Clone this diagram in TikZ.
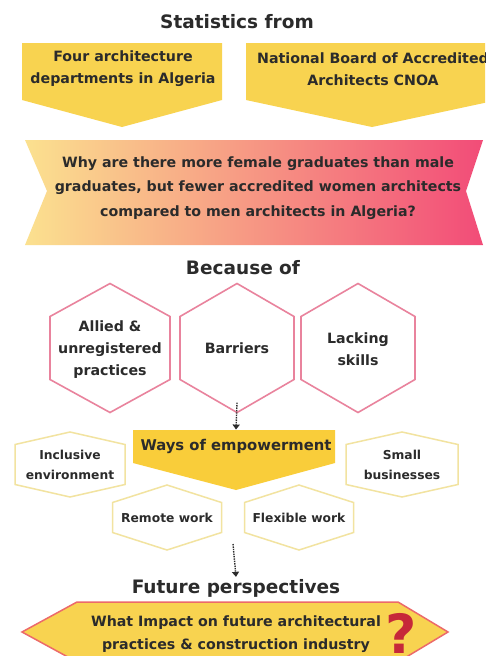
\documentclass[tikz,border=0pt]{standalone}
\usepackage{fontspec}
\setmainfont{DejaVu Sans}
\usetikzlibrary{arrows.meta}
\definecolor{ink}{HTML}{2B2B2B}
\definecolor{ylw}{HTML}{F8D350}
\definecolor{ylwdeep}{HTML}{F9CD3A}
\definecolor{pinkline}{HTML}{E9839D}
\definecolor{paleline}{HTML}{F2E3A0}
\definecolor{bannerL}{HTML}{FBE18F}
\definecolor{bannerM}{HTML}{F7A99A}
\definecolor{bannerR}{HTML}{F24C78}
\definecolor{redline}{HTML}{EC6A6A}
\definecolor{qred}{HTML}{C62839}
\newcommand{\hexpath}[6]{\draw[#1] (#2,#3-#5) -- (#2+#4,#3-#6) -- (#2+#4,#3+#6) -- (#2,#3+#5) -- (#2-#4,#3+#6) -- (#2-#4,#3-#6) -- cycle;}
\tikzset{
  txt/.style={font=\bfseries\fontsize{14.2}{22}\selectfont, text=ink, align=center, inner sep=0pt},
  smalltxt/.style={font=\bfseries\fontsize{12.3}{20}\selectfont, text=ink, align=center, inner sep=0pt},
  titletxt/.style={font=\bfseries\fontsize{18.5}{22}\selectfont, text=ink, inner sep=2pt},
  bighex/.style={draw=pinkline, line width=1.6pt, fill=white, line join=miter},
  smallhex/.style={draw=paleline, line width=1.5pt, fill=white},
  dotarrow/.style={densely dotted, line width=1.4pt, draw=ink, -{Triangle[length=5pt,width=7pt]}},
}
\begin{document}
\begin{tikzpicture}[x=1pt,y=-1pt]
\path[use as bounding box, clip] (0,0) rectangle (485,656);
\fill[white] (0,0) rectangle (485,656);

% title
\node[titletxt] (stats) at (237,22) {Statistics from};

% top boxes
\fill[ylw] (22,43) -- (222,43) -- (222,100) -- (122,127) -- (22,100) -- cycle;
\fill[ylw] (246,43) -- (498,43) -- (498,100) -- (372,127) -- (246,100) -- cycle;
\node[txt] (four) at (123,69) {Four architecture\\departments in Algeria};
\node[txt] (cnoa) at (373,69) {National Board of Accredited\\Architects CNOA};

% banner
\shade[left color=bannerL, middle color=bannerM, right color=bannerR]
  (25,140) -- (483,140) -- (466,191) -- (483,245) -- (25,245) -- (47,191) -- cycle;
\node[txt, font=\bfseries\fontsize{14.2}{24.5}\selectfont] (question) at (258,188) {Why are there more female graduates than male\\graduates, but fewer accredited women architects\\compared to men architects in Algeria?};

% because of
\node[titletxt] (because) at (243,268) {Because of};
\hexpath{bighex}{110}{348}{60}{64.5}{31.5}
\hexpath{bighex}{237}{348}{57}{64.5}{31.5}
\hexpath{bighex}{358}{348}{57}{64.5}{31.5}
\node[txt, minimum width=116, minimum height=129] (allied) at (110,350) {Allied \&\\unregistered\\practices};
\node[txt, minimum width=114, minimum height=129] (barriers) at (237,348) {Barriers};
\node[txt, minimum width=114, minimum height=129] (lacking) at (358,349) {Lacking\\skills};

% ways of empowerment
\fill[ylwdeep] (133,430) -- (335,430) -- (335,463) -- (236,490) -- (133,463) -- cycle;
\node[font=\bfseries\fontsize{14.8}{18}\selectfont, text=ink, inner xsep=0pt, inner ysep=9pt] (ways) at (236,446) {Ways of empowerment};
\draw[dotarrow] ([yshift=10pt]barriers.south) -- (ways.north);

% small hexagons
\hexpath{smallhex}{70}{464.5}{55}{32.5}{20}
\hexpath{smallhex}{402}{464.5}{56}{32.5}{20}
\hexpath{smallhex}{167}{517.5}{54.5}{32.5}{15}
\hexpath{smallhex}{299}{517.5}{54.5}{32.5}{15}
\node[smalltxt] (inclusive) at (70,465) {Inclusive\\environment};
\node[smalltxt] (small) at (402,465) {Small\\businesses};
\node[smalltxt] (remote) at (167,518) {Remote work};
\node[smalltxt] (flexible) at (299,518) {Flexible work};

% future
\coordinate (gap) at (233,544);
\node[titletxt] (future) at (236,588) {Future perspectives};
\draw[dotarrow] (gap) -- (future.north);

\filldraw[fill=ylw, draw=redline, line width=1.5pt]
  (22,632) -- (77,602) -- (398,602) -- (448,632) -- (398,662) -- (77,662) -- cycle;
\node[txt, font=\bfseries\fontsize{14.2}{23}\selectfont] (impact) at (236,634) {What Impact on future architectural\\practices \& construction industry};
\node[font=\bfseries\fontsize{54}{54}\selectfont, text=qred, inner sep=0pt, anchor=base] (qmark) at (401,653) {?};
\end{tikzpicture}
\end{document}
